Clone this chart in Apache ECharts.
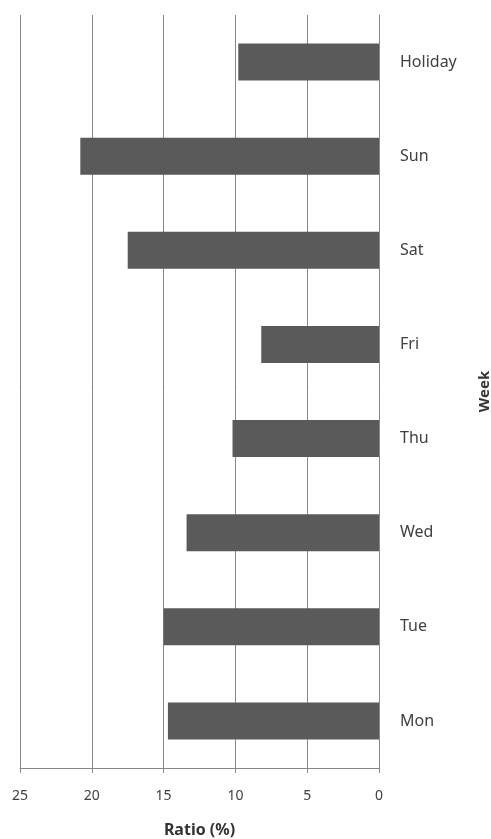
<!DOCTYPE html>
<html><head><meta charset="utf-8">
<script src="https://cdn.jsdelivr.net/npm/echarts@6/dist/echarts.min.js"></script>
<style>html,body{margin:0;padding:0;background:#fff}#c{width:491px;height:839px}</style>
</head><body><div id="c"></div>
<script>
var categories = ['Mon','Tue','Wed','Thu','Fri','Sat','Sun','Holiday'];
var ratios = [14.7, 15.0, 13.4, 10.2, 8.2, 17.5, 20.8, 9.8];
var xTicks = [0, 25, 5];
var chart = echarts.init(document.getElementById('c'));
var font = "'Noto Sans', sans-serif";
chart.setOption({
  animation: false,
  grid: {left: 20, right: 112, top: 15, bottom: 71, containLabel: false, outerBoundsMode: 'none'},
  xAxis: {
    type: 'value', inverse: true, min: xTicks[0], max: xTicks[1], interval: xTicks[2],
    name: 'Ratio (%)', nameLocation: 'middle', nameGap: 54,
    nameTextStyle: {fontWeight: 'bold', fontSize: 16, color: '#333', fontFamily: font},
    axisLine: {show: true, lineStyle: {color: '#888'}},
    axisTick: {show: true, length: 5, lineStyle: {color: '#888'}},
    axisLabel: {margin: 21, fontSize: 14, color: '#404040', fontFamily: font},
    splitLine: {show: true, lineStyle: {color: '#888'}}
  },
  yAxis: {
    type: 'category', position: 'right', data: categories,
    name: 'Week', nameLocation: 'middle', nameRotate: 90, nameGap: 98,
    nameTextStyle: {fontWeight: 'bold', fontSize: 15, color: '#333', fontFamily: font},
    axisLine: {show: true, lineStyle: {color: '#888'}},
    axisTick: {show: false},
    axisLabel: {margin: 21, fontSize: 16, color: '#404040', fontFamily: font},
    splitLine: {show: false}
  },
  series: [{type: 'bar', data: ratios, barWidth: 37, itemStyle: {color: '#5a5a5a'}}]
});
</script></body></html>
